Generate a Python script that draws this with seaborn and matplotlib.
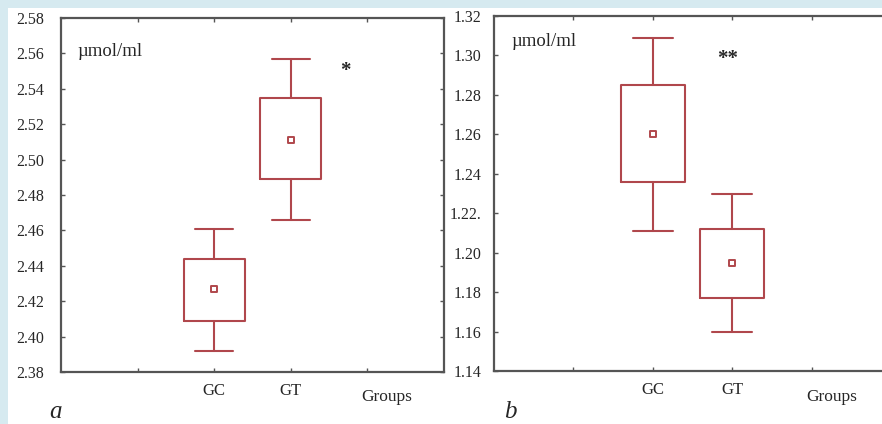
#!/usr/bin/env python3

import seaborn as sns
import matplotlib.pyplot as plt
import pandas as pd
import numpy as np
from matplotlib.patches import Rectangle

groups = ["GC", "GT"]

# panel a: whisker low, box low, mean, box high, whisker high
a_whislo = [2.392, 2.466]
a_q1 = [2.409, 2.489]
a_mean = [2.427, 2.511]
a_q3 = [2.444, 2.535]
a_whishi = [2.461, 2.557]

# panel b
b_whislo = [1.211, 1.160]
b_q1 = [1.236, 1.177]
b_mean = [1.260, 1.195]
b_q3 = [1.285, 1.212]
b_whishi = [1.309, 1.230]

a_ticks = [2.38, 2.40, 2.42, 2.44, 2.46, 2.48, 2.50, 2.52, 2.54, 2.56, 2.58]
b_ticks = [1.14, 1.16, 1.18, 1.20, 1.22, 1.24, 1.26, 1.28, 1.30, 1.32]
b_tick_labels = ["1.14", "1.16", "1.18", "1.20", "1.22.", "1.24", "1.26", "1.28", "1.30", "1.32"]

RED = "#b0474c"
SPINE = "#555555"

sns.set_style("ticks")
plt.rcParams['font.family'] = ['Liberation Serif', 'DejaVu Serif']

fig = plt.figure(figsize=(8.82, 4.24), dpi=100)
fig.patch.set_facecolor("#d6eaf0")
fig.patches.append(Rectangle((8 / 882, 0), 1, 416 / 424, transform=fig.transFigure,
                             facecolor="white", edgecolor="none", zorder=-5))

W, H = 882, 424
ax_a = fig.add_axes([61 / W, (H - 372) / H, 383 / W, 354 / H])
ax_b = fig.add_axes([494 / W, (H - 371) / H, 397 / W, 355 / H])


def draw(ax, whislo, q1, mean, q3, whishi, ylim, ticks, labels, star, star_xy, unit_xy, ypad):
    stats = []
    for i, g in enumerate(groups):
        stats.append({"label": g, "whislo": whislo[i], "q1": q1[i], "med": mean[i],
                      "q3": q3[i], "whishi": whishi[i], "fliers": []})
    lp = dict(color=RED, linewidth=1.5)
    ax.bxp(stats, positions=[2, 3], widths=0.8, capwidths=0.5, showfliers=False,
           boxprops=lp, whiskerprops=lp, capprops=lp,
           medianprops=dict(linewidth=0), manage_ticks=False)
    df = pd.DataFrame({"x": [2, 3], "mean": mean})
    sns.scatterplot(data=df, x="x", y="mean", marker="s", s=16, facecolor="white",
                    edgecolor=RED, linewidth=1.4, ax=ax, zorder=5, legend=False)
    ax.set_xlim(0, 5)
    ax.set_ylim(*ylim)
    ax.set_yticks(ticks)
    ax.set_yticklabels(labels, fontsize=11.5)
    ax.set_xticks([1, 2, 3, 4])
    ax.set_xticklabels(["", "GC", "GT", ""], fontsize=12)
    ax.set_xlabel("")
    ax.set_ylabel("")
    ax.tick_params(direction="in", length=3, width=1, color=SPINE, top=True, right=True,
                   labelright=False, labeltop=False)
    ax.tick_params(axis="y", pad=ypad)
    ax.tick_params(axis="x", pad=8)
    for sp in ax.spines.values():
        sp.set_visible(True)
        sp.set_color(SPINE)
        sp.set_linewidth(1.6)
    ax.text(4.25, -0.072, "Groups", transform=ax.get_xaxis_transform(), ha="center",
            va="center", fontsize=12.5)
    ax.text(unit_xy[0], unit_xy[1], "µmol/ml", transform=ax.transAxes, ha="left",
            va="center", fontsize=13.5)
    ax.text(star_xy[0], star_xy[1], star, ha="center", va="center", fontsize=15,
            fontweight="bold")


draw(ax_a, a_whislo, a_q1, a_mean, a_q3, a_whishi, (2.38, 2.58), a_ticks,
     ["%.2f" % t for t in a_ticks], "*", (3.71, 2.550), (0.044, 0.904), 12)
draw(ax_b, b_whislo, b_q1, b_mean, b_q3, b_whishi, (1.14, 1.32), b_ticks,
     b_tick_labels, "**", (2.94, 1.298), (0.045, 0.928), 9)

fig.text(55 / W, 1 - 412 / H, "a", fontsize=18, style="italic", ha="center", va="center")
fig.text(510 / W, 1 - 412 / H, "b", fontsize=18, style="italic", ha="center", va="center")

fig.savefig("out.png", dpi=100)
